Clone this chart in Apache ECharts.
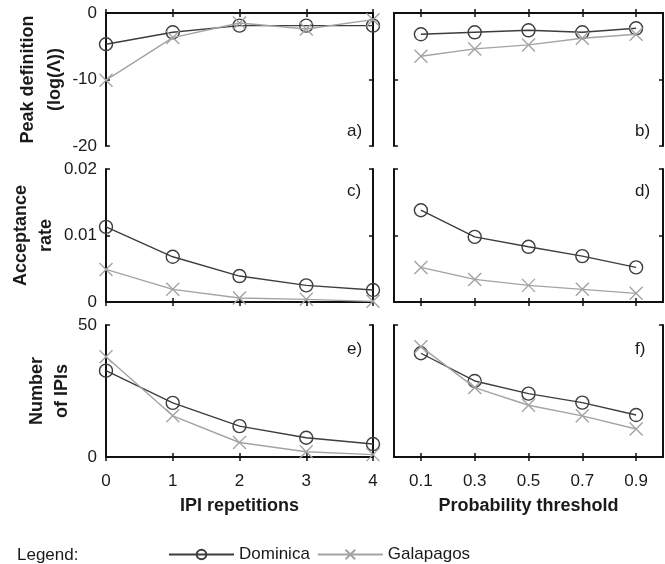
<!DOCTYPE html>
<html>
<head>
<meta charset="utf-8">
<script src="https://cdn.jsdelivr.net/npm/echarts@6/dist/echarts.min.js"></script>
<style>
html,body{margin:0;padding:0;background:#fff;}
#chart{width:665px;height:564px;}
</style>
</head>
<body>
<div id="chart"></div>
<script>
// ---- data ----
const repetitions = ['0', '1', '2', '3', '4'];
const thresholds = ['0.1', '0.3', '0.5', '0.7', '0.9'];

const peakDomRep = [-4.7, -2.9, -1.9, -1.9, -1.9];
const peakGalRep = [-10.1, -3.7, -1.5, -2.4, -1.0];
const peakDomThr = [-3.2, -2.9, -2.6, -2.9, -2.3];
const peakGalThr = [-6.5, -5.4, -4.8, -3.8, -3.2];

const accDomRep = [0.0113, 0.0068, 0.0039, 0.0025, 0.0018];
const accGalRep = [0.0049, 0.0019, 0.0006, 0.0004, 0.0001];
const accDomThr = [0.0138, 0.0098, 0.0083, 0.0069, 0.0052];
const accGalThr = [0.0052, 0.0034, 0.0025, 0.0019, 0.0013];

const numDomRep = [32.7, 20.5, 11.7, 7.3, 4.9];
const numGalRep = [38.0, 15.6, 5.5, 2.0, 0.9];
const numDomThr = [39.3, 28.8, 24.0, 20.6, 15.9];
const numGalThr = [41.8, 26.3, 19.6, 15.6, 10.6];

const yTitles = ['Peak definition\n(log(Λ))', 'Acceptance\nrate', 'Number\nof IPIs'];
const yMins = [-20, 0, 0];
const yMaxs = [0, 0.02, 50];
const yIntervals = [10, 0.01, 50];
const xTitles = ['IPI repetitions', 'Probability threshold'];
const panelLetters = [['a)', 'b)'], ['c)', 'd)'], ['e)', 'f)']];
const seriesNames = ['Dominica', 'Galapagos'];

const panelData = [
  [[peakDomRep, peakGalRep], [peakDomThr, peakGalThr]],
  [[accDomRep, accGalRep], [accDomThr, accGalThr]],
  [[numDomRep, numGalRep], [numDomThr, numGalThr]]
];

// ---- layout / style ----
const FONT = 'Liberation Sans, Arial, Helvetica, sans-serif';
const TXT = '#1a1a1a';
const cols = [{left: 106, width: 267}, {left: 394, width: 269}];
const rows = [{top: 13, height: 133}, {top: 169, height: 133}, {top: 325, height: 132}];
const nameGaps = [36, 47, 31];
const nameLineHeights = [27, 25, 25];
const colors = ['#3d3d3d', '#a3a3a3'];
const symbols = ['circle', 'path://M0,0L10,10M10,0L0,10'];
const symbolSizes = [13, 13];
const letterY = [133, 193, 351];
const letterX = [347, 635];

const grids = [], xAxes = [], yAxes = [], series = [], graphics = [];
const axisLine = {show: true, lineStyle: {color: '#111', width: 2}};
const axisTick = {show: true, inside: true, length: 4, alignWithLabel: true, lineStyle: {color: '#111', width: 1.5}};

let gi = 0;
for (let r = 0; r < 3; r++) {
  for (let c = 0; c < 2; c++) {
    grids.push({left: cols[c].left, width: cols[c].width, top: rows[r].top, height: rows[r].height, containLabel: false});
    const cats = c === 0 ? repetitions : thresholds;
    const bg = c === 1;
    ['bottom', 'top'].forEach((pos, k) => {
      const ax = {
        gridIndex: gi, type: 'category', data: cats, position: pos, boundaryGap: bg,
        axisLine: axisLine, axisTick: axisTick, splitLine: {show: false},
        axisLabel: {show: r === 2 && k === 0, margin: 16, fontSize: 17, color: TXT, fontFamily: FONT}
      };
      if (r === 2 && k === 0) {
        ax.name = xTitles[c];
        ax.nameLocation = 'middle';
        ax.nameGap = 40;
        ax.nameTextStyle = {fontSize: 18, fontWeight: 'bold', color: TXT, fontFamily: FONT};
      }
      xAxes.push(ax);
    });
    ['left', 'right'].forEach((pos, k) => {
      const ay = {
        gridIndex: gi, type: 'value', position: pos, min: yMins[r], max: yMaxs[r], interval: yIntervals[r],
        axisLine: axisLine, axisTick: axisTick, splitLine: {show: false},
        axisLabel: {show: c === 0 && k === 0, margin: 9, fontSize: 17, color: TXT, fontFamily: FONT}
      };
      if (c === 0 && k === 0) {
        ay.name = yTitles[r];
        ay.nameLocation = 'middle';
        ay.nameRotate = 90;
        ay.nameGap = nameGaps[r];
        ay.nameTextStyle = {fontSize: 18, fontWeight: 'bold', color: TXT, fontFamily: FONT, lineHeight: nameLineHeights[r], align: 'center'};
      }
      yAxes.push(ay);
    });
    for (let s = 0; s < 2; s++) {
      series.push({
        name: seriesNames[s], type: 'line',
        xAxisIndex: gi * 2, yAxisIndex: gi * 2,
        data: panelData[r][c][s],
        symbol: symbols[s], symbolSize: symbolSizes[s], showAllSymbol: true,
        clip: false,
        lineStyle: {color: colors[s], width: 1.4},
        itemStyle: {color: 'rgba(0,0,0,0)', borderColor: colors[s], borderWidth: 1.4},
        emphasis: {disabled: true},
        z: 3 + s
      });
    }
    graphics.push({
      type: 'text', left: letterX[c], top: letterY[r] - 10,
      style: {text: panelLetters[r][c], fontSize: 17, fill: TXT, fontFamily: FONT}
    });
    gi++;
  }
}

graphics.push({
  type: 'text', left: 17, top: 547,
  style: {text: 'Legend:', fontSize: 17, fill: TXT, fontFamily: FONT}
});

const chart = echarts.init(document.getElementById('chart'), null, {renderer: 'canvas'});
chart.setOption({
  backgroundColor: '#fff',
  animation: false,
  grid: grids,
  xAxis: xAxes,
  yAxis: yAxes,
  series: series,
  legend: {
    data: seriesNames, left: 168, top: 546, padding: 0, itemWidth: 65, itemHeight: 12, itemGap: 7,
    textStyle: {fontSize: 17, color: TXT, fontFamily: FONT},
    selectedMode: false
  },
  graphic: graphics
});
</script>
</body>
</html>
